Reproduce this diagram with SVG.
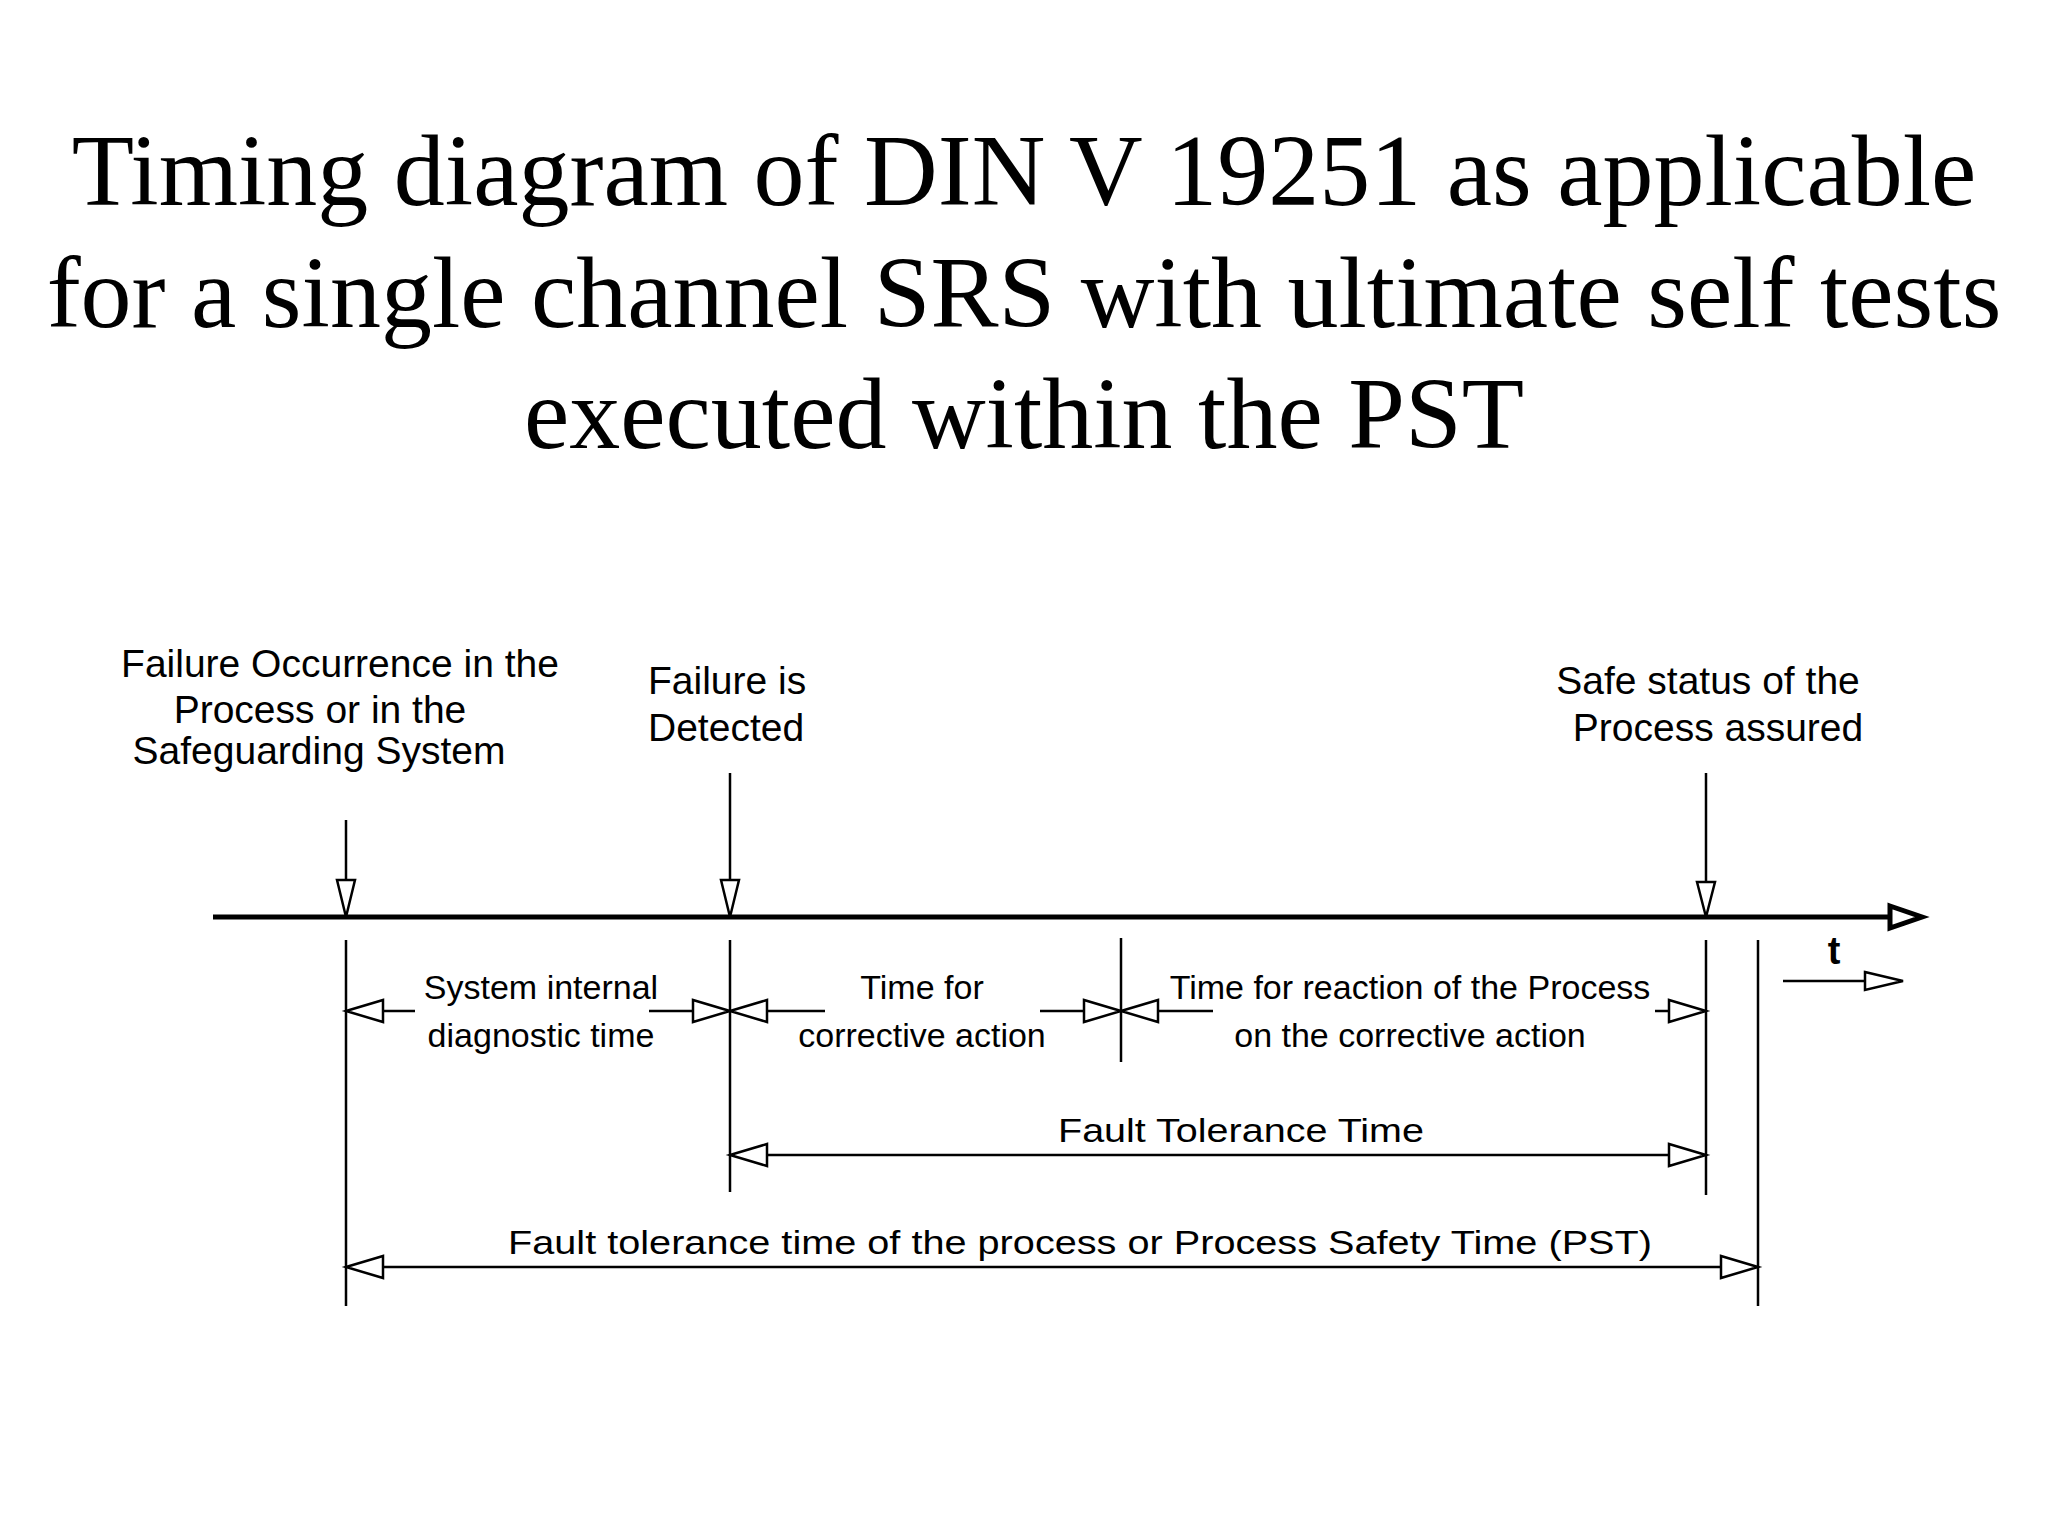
<svg xmlns="http://www.w3.org/2000/svg" width="2048" height="1536" viewBox="0 0 2048 1536">
<style>
.t{font-family:"Liberation Serif",serif;font-size:102px;text-anchor:middle;fill:#000}
.l{font-family:"Liberation Sans",Arial,sans-serif;font-size:39px;fill:#000}
.s{font-family:"Liberation Sans",Arial,sans-serif;font-size:34px;fill:#000;text-anchor:middle}
.ln{stroke:#000;stroke-width:2.5;fill:none}
.ah{fill:#fff;stroke:#000;stroke-width:2.5}
</style>
<rect width="2048" height="1536" fill="#fff"/>
<g id="title">
<text class="t" x="1024" y="205">Timing diagram of DIN V 19251 as applicable</text>
<text class="t" x="1024" y="327">for a single channel SRS with ultimate self tests</text>
<text class="t" x="1024" y="448">executed within the PST</text>
</g>
<g id="events">
<text class="l" x="340" y="677" text-anchor="middle">Failure Occurrence in the</text>
<text class="l" x="320" y="723" text-anchor="middle">Process or in the</text>
<text class="l" x="319" y="764" text-anchor="middle">Safeguarding System</text>
<text class="l" x="648" y="694">Failure is</text>
<text class="l" x="648" y="741">Detected</text>
<text class="l" x="1708" y="694" text-anchor="middle">Safe status of the</text>
<text class="l" x="1718" y="741" text-anchor="middle">Process assured</text>
</g>
<g id="axis">
<line x1="213" y1="917" x2="1900" y2="917" stroke="#000" stroke-width="5"/>
<polygon points="1890,906 1922,917 1890,928" fill="#fff" stroke="#000" stroke-width="5"/>
<text x="1834" y="964" font-family="Liberation Sans,Arial,sans-serif" font-size="38" font-weight="bold" text-anchor="middle">t</text>
<line class="ln" x1="1783" y1="981" x2="1865" y2="981"/>
<polygon class="ah" points="1865,972 1903,981 1865,990"/>
</g>
<g id="connectors">
<line class="ln" x1="346" y1="820" x2="346" y2="880"/>
<polygon class="ah" points="337,880 346,917 355,880"/>
<line class="ln" x1="730" y1="773" x2="730" y2="880"/>
<polygon class="ah" points="721,880 730,917 739,880"/>
<line class="ln" x1="1706" y1="773" x2="1706" y2="882"/>
<polygon class="ah" points="1697,882 1706,917 1715,882"/>
<line class="ln" x1="346" y1="940" x2="346" y2="1306"/>
<line class="ln" x1="730" y1="940" x2="730" y2="1192"/>
<line class="ln" x1="1121" y1="938" x2="1121" y2="1062"/>
<line class="ln" x1="1706" y1="940" x2="1706" y2="1195"/>
<line class="ln" x1="1758" y1="940" x2="1758" y2="1306"/>
<line class="ln" x1="383" y1="1011" x2="415" y2="1011"/>
<polygon class="ah" points="346,1011 383,1000 383,1022"/>
<line class="ln" x1="649" y1="1011" x2="693" y2="1011"/>
<polygon class="ah" points="730,1011 693,1000 693,1022"/>
<line class="ln" x1="767" y1="1011" x2="825" y2="1011"/>
<polygon class="ah" points="730,1011 767,1000 767,1022"/>
<line class="ln" x1="1040" y1="1011" x2="1084" y2="1011"/>
<polygon class="ah" points="1121,1011 1084,1000 1084,1022"/>
<line class="ln" x1="1158" y1="1011" x2="1213" y2="1011"/>
<polygon class="ah" points="1121,1011 1158,1000 1158,1022"/>
<line class="ln" x1="1655" y1="1011" x2="1669" y2="1011"/>
<polygon class="ah" points="1706,1011 1669,1000 1669,1022"/>
<line class="ln" x1="767" y1="1155" x2="1669" y2="1155"/>
<polygon class="ah" points="730,1155 767,1144 767,1166"/>
<polygon class="ah" points="1706,1155 1669,1144 1669,1166"/>
<line class="ln" x1="383" y1="1267" x2="1721" y2="1267"/>
<polygon class="ah" points="346,1267 383,1256 383,1278"/>
<polygon class="ah" points="1758,1267 1721,1256 1721,1278"/>
</g>
<g id="labels">
<text class="s" x="541" y="999">System internal</text>
<text class="s" x="541" y="1047">diagnostic time</text>
<text class="s" x="922" y="999">Time for</text>
<text class="s" x="922" y="1047">corrective action</text>
<text class="s" x="1410" y="999">Time for reaction of the Process</text>
<text class="s" x="1410" y="1047">on the corrective action</text>
<text class="s" x="1241" y="1142" font-size="46" textLength="366" lengthAdjust="spacingAndGlyphs">Fault Tolerance Time</text>
<text class="s" x="1080" y="1254" font-size="46" textLength="1144" lengthAdjust="spacingAndGlyphs">Fault tolerance time of the process or Process Safety Time (PST)</text>
</g>
</svg>
